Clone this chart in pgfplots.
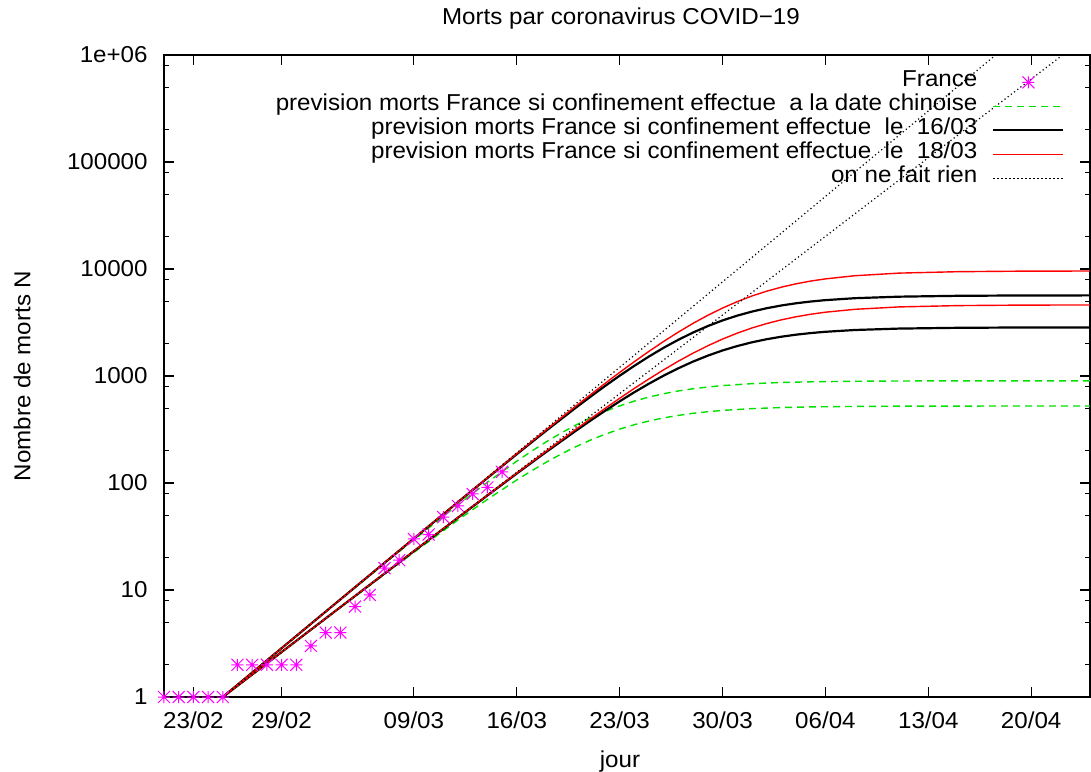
\documentclass[border=0pt]{standalone}
\usepackage{fontspec}
\setmainfont{Liberation Sans}[FakeStretch=1.05]
\usepackage{pgfplots}
\pgfplotsset{compat=1.18}

% gnuplot-style asterisk: a "+" over an "x"
\pgfdeclareplotmark{gpstar}{%
  \pgfpathmoveto{\pgfqpoint{-\pgfplotmarksize}{0pt}}%
  \pgfpathlineto{\pgfqpoint{\pgfplotmarksize}{0pt}}%
  \pgfpathmoveto{\pgfqpoint{0pt}{-\pgfplotmarksize}}%
  \pgfpathlineto{\pgfqpoint{0pt}{\pgfplotmarksize}}%
  \pgfpathmoveto{\pgfqpoint{-\pgfplotmarksize}{-\pgfplotmarksize}}%
  \pgfpathlineto{\pgfqpoint{\pgfplotmarksize}{\pgfplotmarksize}}%
  \pgfpathmoveto{\pgfqpoint{-\pgfplotmarksize}{\pgfplotmarksize}}%
  \pgfpathlineto{\pgfqpoint{\pgfplotmarksize}{-\pgfplotmarksize}}%
  \pgfusepathqstroke}

\pgfplotsset{
  gplinelegend/.style={legend image code/.code={\draw[##1] (0pt,0pt) -- (35pt,0pt);}},
  gpmarklegend/.style={legend image code/.code={\draw[mark repeat=2, mark phase=2, ##1] plot coordinates {(0pt,0pt) (17.5pt,0pt) (35pt,0pt)};}},
}

\definecolor{gpgreen}{RGB}{0,225,0}
\definecolor{gpred}{RGB}{255,0,0}
\definecolor{gpmagenta}{RGB}{255,0,255}

% day 0 = 21/02/2020
\pgfplotstableread{
t N
0 1
1 1
2 1
3 1
4 1
5 2
6 2
7 2
8 2
9 2
10 3
11 4
12 4
13 7
14 9
15 16
16 19
17 30
18 33
19 48
20 61
21 79
22 91
23 127
}\france

\begin{document}
\begin{tikzpicture}[font=\fontsize{11.5}{13}\selectfont]
\path[use as bounding box] (-82pt,-37pt) rectangle (463.5pt,348.5pt);
\begin{axis}[
  at={(0pt,0pt)}, anchor=south west,
  scale only axis, width=463pt, height=321pt,
  ymode=log, xmin=0, xmax=63, ymin=1, ymax=1e6,
  xtick={2,8,17,24,31,38,45,52,59},
  xticklabels={23/02,29/02,09/03,16/03,23/03,30/03,06/04,13/04,20/04},
  ytick={1,10,100,1000,10000,100000,1000000},
  yticklabels={1,10,100,1000,10000,100000,1e+06},
  minor ytick={2,5,8,20,50,80,200,500,800,2000,5000,8000,20000,50000,80000,200000,500000,800000},
  tick align=inside, major tick length=5pt, minor tick length=2.5pt,
  tick style={black, line width=0.6pt},
  axis line style={line width=0.9pt},
  xticklabel style={anchor=center, yshift=-11.5pt, inner sep=0pt},
  yticklabel style={anchor=east, xshift=-8pt, inner sep=0pt},
  title={Morts par coronavirus COVID\symbol{"2212}19},
  title style={at={(axis description cs:0.4935,1.0373)}, anchor=center, inner sep=0pt},
  xlabel={jour},
  xlabel style={at={(axis description cs:0.4924,-0.1010)}, anchor=center, inner sep=0pt},
  ylabel={Nombre de morts N},
  ylabel style={at={(axis description cs:-0.1533,0.5)}, anchor=center, rotate=0, inner sep=0pt},
  legend style={draw=none, fill=none, at={(1,1)}, anchor=north east,
    xshift=-12.5pt, yshift=-7.5pt, inner sep=0pt, row sep=0pt, column sep=7.5pt,
    nodes={inner sep=0pt, text height=8pt, text depth=4pt}},
  legend cell align=right,
  legend plot pos=right,
  gplinelegend,
]
\addplot[only marks, mark=gpstar, mark size=3pt, color=gpmagenta, line width=0.5pt, gpmarklegend]
  table[x=t, y=N] {\france};
\addlegendentry{France}

% confinement a la date chinoise
\addplot[gpgreen, line width=0.7pt, dash pattern=on 3.5pt off 2.5pt] coordinates {
(4,1) (8,2.85) (12,8.12) (16,22.9) (20,62.7) (22,101.5) (24,160.0) (25,197.9) (26,242.0)
(27,292.1) (28,347.1) (29,405.5) (30,465.8) (31,525.6) (32,582.9) (33,635.8) (34,683.4)
(35,725.0) (36,760.2) (37,789.4) (38,813.2) (40,848.0) (42,870.2) (44,882.5)
(47,892.7) (50,898.5) (54,900.4) (58,901.2) (63,901.4)};
\addlegendentry{prevision morts France si confinement effectue\ \ a la date chinoise}
\addplot[gpgreen, line width=0.7pt, dash pattern=on 3.5pt off 2.5pt, forget plot] coordinates {
(4,1) (8,2.62) (12,6.87) (16,17.8) (20,45.1) (22,70.2) (24,106.7) (25,129.8) (26,156.2)
(27,185.8) (28,217.7) (29,251.2) (30,285.4) (31,318.9) (32,350.8) (33,380.1) (34,406.1)
(35,428.7) (36,448.0) (37,463.8) (38,476.8) (40,495.5) (42,507.4) (44,514.1)
(47,519.5) (50,522.6) (54,523.6) (58,524.1) (63,524.3)};

% confinement le 16/03
\addplot[black, line width=1.1pt] coordinates {
(4,1) (8,2.86) (12,8.17) (16,23.3) (20,66.3) (22,111.2) (24,185.9) (26,308.0) (28,503.5)
(29,638.7) (30,805.1) (31,1006) (32,1245) (33,1523) (34,1838) (35,2183) (36,2551)
(37,2930) (38,3306) (39,3666) (40,3999) (41,4299) (42,4560) (43,4782) (44,4966)
(45,5116) (47,5335) (50,5512) (54,5616) (58,5654) (63,5667)};
\addlegendentry{prevision morts France si confinement effectue\ \ le\ \ 16/03}
\addplot[black, line width=1.1pt, forget plot] coordinates {
(4,1) (8,2.63) (12,6.91) (16,18.1) (20,47.4) (22,76.4) (24,122.6) (26,195.0) (28,306.4)
(29,381.7) (30,472.2) (31,579.8) (32,705.4) (33,848.8) (34,1009) (35,1182) (36,1365)
(37,1550) (38,1733) (39,1905) (40,2065) (41,2206) (42,2329) (43,2433) (44,2519)
(45,2589) (47,2691) (50,2774) (54,2821) (58,2839) (63,2845)};

% confinement le 18/03
\addplot[gpred, line width=0.7pt] coordinates {
(4,1) (8,2.86) (12,8.17) (16,23.4) (20,66.5) (22,112.0) (24,188.2) (26,314.5) (28,521.0)
(30,851.3) (31,1080) (32,1361) (33,1702) (34,2106) (35,2575) (36,3108) (37,3693)
(38,4314) (39,4955) (40,5593) (41,6200) (42,6764) (43,7270) (44,7715) (45,8084)
(47,8651) (50,9152) (54,9436) (58,9539) (63,9577)};
\addlegendentry{prevision morts France si confinement effectue\ \ le\ \ 18/03}
\addplot[gpred, line width=0.7pt, forget plot] coordinates {
(4,1) (8,2.63) (12,6.91) (16,18.2) (20,47.6) (22,76.9) (24,123.9) (26,198.7) (28,316.3)
(30,497.0) (31,618.8) (32,765.8) (33,940.2) (34,1144) (35,1377) (36,1636) (37,1918)
(38,2214) (39,2514) (40,2810) (41,3090) (42,3348) (43,3577) (44,3777) (45,3947)
(47,4200) (50,4421) (54,4549) (58,4595) (63,4613)};

% croissance exponentielle sans mesure
\addplot[black, line width=0.6pt, dash pattern=on 0.6pt off 1.4pt] coordinates {(4,1) (63,5.395e6)};
\addlegendentry{on ne fait rien}
\addplot[black, line width=0.6pt, dash pattern=on 0.6pt off 1.4pt, forget plot] coordinates {(4,1) (63,1.567e6)};
\end{axis}
\end{tikzpicture}
\end{document}
